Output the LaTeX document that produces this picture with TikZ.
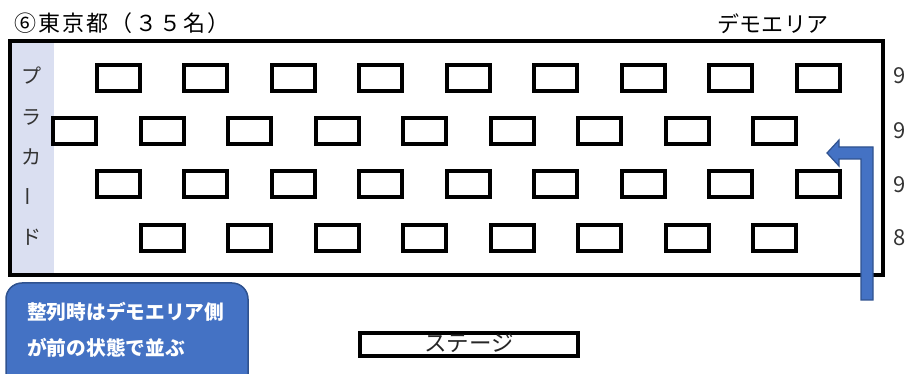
\documentclass[tikz,border=0pt]{standalone}
\usepackage{fontspec}
\setmainfont{Noto Sans CJK JP}
\usetikzlibrary{positioning}
\definecolor{plcfill}{RGB}{218,223,241}
\definecolor{callblue}{RGB}{68,114,196}
\definecolor{calledge}{RGB}{47,82,143}

\begin{document}
\begin{tikzpicture}[x=1pt, y=-1pt,
  desk/.style={draw=black, line width=4pt, minimum width=43pt, minimum height=26pt, inner sep=0pt},
  lbl/.style={font=\fontsize{22}{22}\selectfont, inner sep=0pt},
  plc/.style={font=\fontsize{20}{20}\selectfont, inner sep=0pt, text=black!80},
  cnt/.style={font=\fontsize{22}{22}\selectfont, inner sep=0pt, anchor=west, text=black!80},
  note/.style={font=\fontsize{19.7}{19.7}\selectfont\bfseries, text=white, inner sep=0pt, anchor=west}]
\useasboundingbox (0,0) rectangle (914,374);
\clip (0,0) rectangle (914,374);

%% ── headings ─────────────────────────────────────────
\node[lbl, anchor=west] (title) at (14,23) {\addfontfeatures{LetterSpace=10}⑥東京都（３５名）};
\node[lbl] (demo) at (773,24) {\addfontfeatures{LetterSpace=2}デモエリア};

%% ── room + placard ───────────────────────────────────
\node[fill=plcfill, minimum width=44pt, minimum height=234pt, inner sep=0pt] (placard) at (32,158) {};
\node[draw=black, line width=4pt, minimum width=873pt, minimum height=234pt, inner sep=0pt] (room) at (446.5,158) {};
\foreach \c/\y/\r in {プ/76/0, ラ/117/0, カ/157/0, ー/197/90, ド/237/0}
  {\node[plc, rotate=\r] (p\y) at (31,\y) {\c};}

%% ── desks (9/9/9/8) ──────────────────────────────────
\foreach \k in {0,...,8}{\node[desk] (ra\k) at ({118+87.5*\k},78) {};}
\foreach \k in {0,...,8}{\node[desk] (rb\k) at ({74.5+87.5*\k},131) {};}
\foreach \k in {0,...,8}{\node[desk] (rc\k) at ({118+87.5*\k},184.5) {};}
\foreach \k in {0,...,7}{\node[desk] (rd\k) at ({162+87.5*\k},238) {};}

%% counts per row
\node[cnt] (na) at (893,76) {9};
\node[cnt] (nb) at (893,131) {9};
\node[cnt] (nc) at (893,185) {9};
\node[cnt] (nd) at (893,238) {8};

%% ── turn arrow ───────────────────────────────────────
\filldraw[fill=callblue, draw=calledge, line width=1.2pt]
  (861,300) -- (861,159) -- (839,159) -- (839,166) -- (827,153) -- (839,140)
  -- (839,147) -- (873,147) -- (873,300) -- cycle;

%% ── stage + note ─────────────────────────────────────
\node[draw=black, line width=4pt, minimum width=218pt, minimum height=23pt, inner sep=0pt,
  text height=17pt, text depth=3pt, font=\fontsize{22.5}{22.5}\selectfont, text=black!85] (stage) at (469,344.5) {ステージ};
\node[fill=callblue, draw=calledge, line width=1.5pt, rounded corners=16pt,
  minimum width=242pt, minimum height=110pt, inner sep=0pt] (callout) at (127,338) {};
\node[note] (note1) at (27,312) {整列時はデモエリア側};
\node[note] (note2) at (27,348) {が前の状態で並ぶ};
\end{tikzpicture}
\end{document}
